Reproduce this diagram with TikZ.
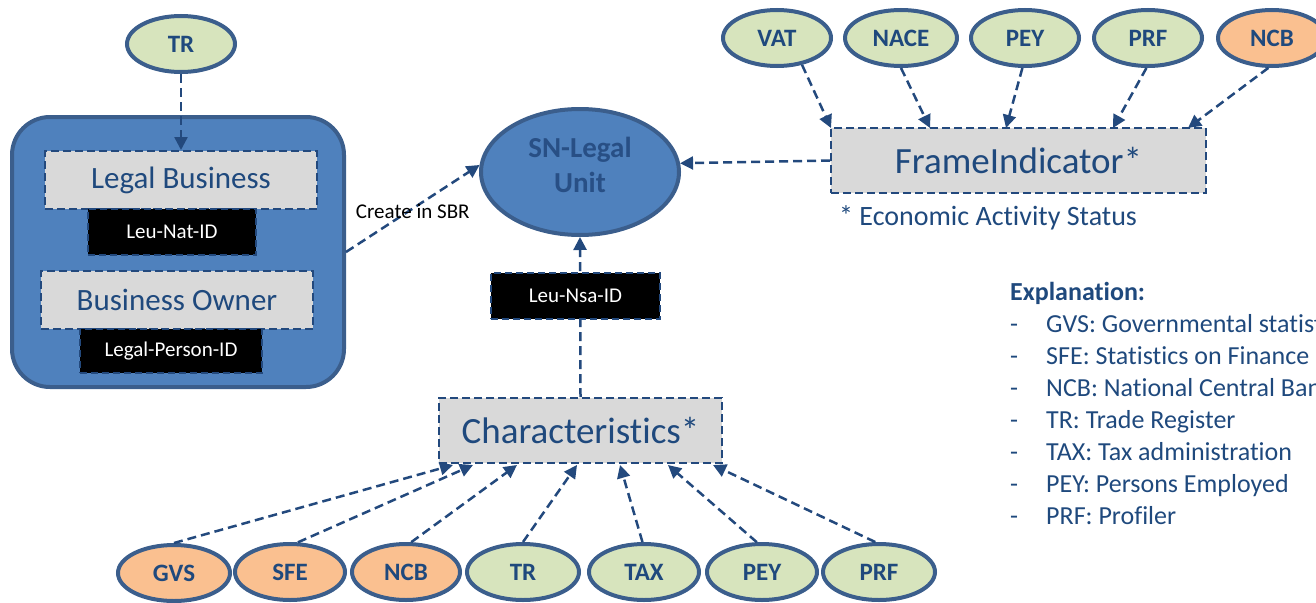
\documentclass[tikz,border=0pt]{standalone}
\usepackage{fontspec}
\setmainfont{Carlito}[Ligatures=NoCommon]
\usetikzlibrary{shapes.geometric,arrows.meta}
\definecolor{rimblue}{HTML}{3B5E8C}
\definecolor{linkblue}{HTML}{23497D}
\definecolor{textblue}{HTML}{1F497D}
\definecolor{unitblue}{HTML}{4F81BD}
\definecolor{unittext}{HTML}{284F85}
\definecolor{boxgray}{HTML}{D9D9D9}
\definecolor{srcgreen}{HTML}{D7E4BD}
\definecolor{srcorange}{HTML}{FAC090}
\begin{document}
\begin{tikzpicture}[x=1pt,y=-1pt,
  src/.style={ellipse, draw=rimblue, line width=4pt, minimum width=108pt,
    minimum height=56pt, inner sep=0pt, text=textblue,
    font=\fontsize{25}{30}\selectfont\bfseries},
  greensrc/.style={src, fill=srcgreen},
  orangesrc/.style={src, fill=srcorange},
  infobox/.style={draw=linkblue, fill=boxgray, line width=2pt,
    dash pattern=on 8pt off 4pt, inner sep=0pt, text=textblue},
  idbox/.style={draw=linkblue, fill=black, line width=2pt,
    dash pattern=on 7pt off 4pt, inner sep=0pt, text=white,
    font=\fontsize{21}{25}\selectfont},
  link/.style={draw=linkblue, line width=2.5pt, dash pattern=on 9pt off 5pt,
    -{Triangle[length=13pt,width=13pt]}},
  legend/.style={anchor=base west, inner sep=0pt, text=textblue,
    font=\fontsize{26}{31}\selectfont}
]
\useasboundingbox (0,0) rectangle (1316,602);
\clip (0,0) rectangle (1316,602);

% legal unit container with its two parts
\node[draw=rimblue, fill=unitblue, line width=4pt, rounded corners=38pt,
  minimum width=332pt, minimum height=270pt, inner sep=0pt] (lu) at (178,252) {};
\node[infobox, minimum width=272pt, minimum height=58pt,
  font=\fontsize{31}{37}\selectfont] (lb) at (181,180) {Legal Business};
\node[idbox, minimum width=168pt, minimum height=46pt] (lbid) at (172,232) {Leu-Nat-ID};
\node[infobox, minimum width=272pt, minimum height=58pt,
  font=\fontsize{31}{37}\selectfont] (bo) at (177,300) {Business Owner};
\node[idbox, minimum width=182pt, minimum height=44pt] (boid) at (171,351) {Legal-Person-ID};

% trade register feeding the legal business
\node[greensrc] (trtop) at (181,44) {TR};

% statistical legal unit
\node[ellipse, draw=rimblue, fill=unitblue, line width=4pt, minimum width=198pt,
  minimum height=126pt, inner sep=0pt] (sn) at (580,172) {};
\node[align=center, inner sep=0pt, text=unittext,
  font=\fontsize{29}{35}\selectfont\bfseries] (snlabel) at (580,165) {SN-Legal\\Unit};

% frame indicator and its sources
\node[infobox, minimum width=375pt, minimum height=65pt,
  font=\fontsize{37}{44}\selectfont] (fi) at (1018.5,160.5) {FrameIndicator*};
\node[anchor=base west, inner sep=0pt, text=textblue,
  font=\fontsize{28}{34}\selectfont] (fnote) at (839,225) {* Economic Activity Status};
\node[greensrc] (vat)  at (777,38)  {VAT};
\node[greensrc, minimum width=112pt] (nace) at (901,38)  {NACE};
\node[greensrc] (pey1) at (1025,38) {PEY};
\node[greensrc] (prf1) at (1148,38) {PRF};
\node[orangesrc] (ncb1) at (1272,38) {NCB};

% characteristics and its sources
\node[infobox, minimum width=283pt, minimum height=65pt,
  font=\fontsize{37}{44}\selectfont] (ch) at (580.5,430.5) {Characteristics*};
\node[orangesrc, minimum width=112pt] (gvs)  at (174,573) {GVS};
\node[orangesrc, minimum width=110pt] (sfe)  at (290,572) {SFE};
\node[orangesrc, minimum width=108pt] (ncb2) at (406,572) {NCB};
\node[greensrc,  minimum width=112pt] (tr2)  at (523,572) {TR};
\node[greensrc,  minimum width=110pt] (tax)  at (644,572) {TAX};
\node[greensrc,  minimum width=110pt] (pey2) at (762,572) {PEY};
\node[greensrc,  minimum width=112pt] (prf2) at (879,572) {PRF};

% arrow targets on the frame indicator and characteristics boxes
\coordinate (fiA) at (831,128);
\coordinate (fiB) at (930,128);
\coordinate (fiC) at (1006,128);
\coordinate (fiD) at (1113,128);
\coordinate (fiE) at (1188,128);
\coordinate (chA) at (453,465);
\coordinate (chB) at (473,465);
\coordinate (chC) at (517,465);
\coordinate (chD) at (577,465);
\coordinate (chE) at (620,465);
\coordinate (chF) at (668,465);
\coordinate (chG) at (713,465);

% connectors
\draw[link] (trtop.south) -- (lb.north);
\draw[link] (lu.east) -- node[pos=0.5, yshift=-3pt, inner sep=0pt, text=black,
  font=\fontsize{21}{25}\selectfont] (sbr) {Create in SBR} (sn.176);
\draw[link] (fi.west) -- (sn.5);
\draw[link] (ch.north) -- (sn.south);

\draw[link] (vat.-47)  -- (fiA);
\draw[link] (nace.-90) -- (fiB);
\draw[link] (pey1.-95) -- (fiC);
\draw[link] (prf1.-93) -- (fiD);
\draw[link] (ncb1.-97) -- (fiE);

\draw[link] (gvs.90)  -- (chA);
\draw[link] (sfe.75)  -- (chB);
\draw[link] (ncb2.80) -- (chC);
\draw[link] (tr2.90)  -- (chD);
\draw[link] (tax.93)  -- (chE);
\draw[link] (pey2.100) -- (chF);
\draw[link] (prf2.97) -- (chG);

% identifier sitting on the characteristics link
\node[idbox, minimum width=169pt, minimum height=46pt] (nsaid) at (575.5,296) {Leu-Nsa-ID};

% explanation of the source abbreviations
\node[legend, font=\fontsize{26}{31}\selectfont\bfseries] (expl) at (1010,300) {Explanation:};
\foreach \i/\txt in {1/GVS: Governmental statistics,
                     2/SFE: Statistics on Finance,
                     3/NCB: National Central Bank,
                     4/TR: Trade Register,
                     5/TAX: Tax administration,
                     6/PEY: Persons Employed,
                     7/PRF: Profiler} {
  \node[legend] (dash\i) at (1010,300+32*\i) {-};
  \node[legend] (item\i) at (1046,300+32*\i) {\txt};
}
\end{tikzpicture}
\end{document}
